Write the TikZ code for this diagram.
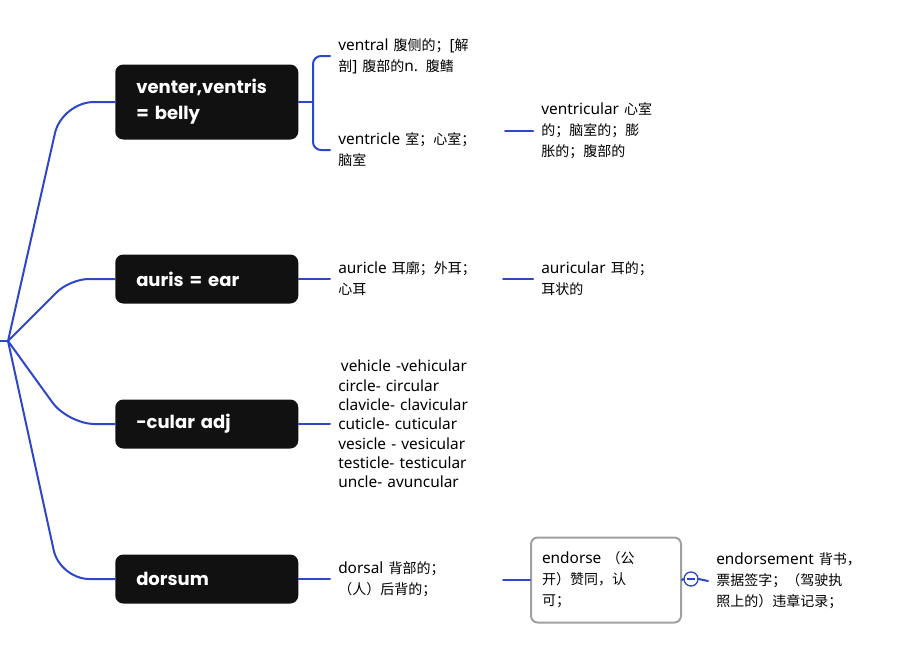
\documentclass[tikz,border=0pt]{standalone}
\usepackage{fontspec}
\setmainfont{Noto Sans}[Scale=1.1]
\newfontfamily\cjk{Noto Sans CJK SC}
\newfontfamily\popfont{Poppins}
\usetikzlibrary{positioning}
\XeTeXinterchartokenstate=1
\newXeTeXintercharclass\cjkclass
\count255="3000
\loop\XeTeXcharclass\count255=\cjkclass\ifnum\count255<"303F\advance\count255 by 1\repeat
\count255="4E00
\loop\XeTeXcharclass\count255=\cjkclass\ifnum\count255<"9FFF\advance\count255 by 1\repeat
\count255="FF00
\loop\XeTeXcharclass\count255=\cjkclass\ifnum\count255<"FFEF\advance\count255 by 1\repeat
\XeTeXinterchartoks 0 \cjkclass={\cjk}
\XeTeXinterchartoks 4095 \cjkclass={\cjk}
\XeTeXinterchartoks \cjkclass 0={\rmfamily}
\XeTeXinterchartoks \cjkclass 4095={\rmfamily}
\definecolor{linkblue}{HTML}{2E46C8}
\definecolor{topicblack}{HTML}{111111}
\definecolor{framegray}{HTML}{A0A0A0}
\tikzset{
  topic/.style={fill=topicblack, rounded corners=6pt, text=white, anchor=west,
    font=\popfont\bfseries\fontsize{13.5}{19.5}\selectfont, align=left,
    minimum width=137.25pt, minimum height=36.75pt, text width=105.75pt,
    inner xsep=15.75pt, inner ysep=0pt},
  leaf/.style={anchor=west, inner sep=0pt, align=left, text width=116pt,
    font=\fontsize{10.5}{15.75}\selectfont},
  link/.style={draw=linkblue, line width=1.5pt, line cap=round, line join=round},
}
\begin{document}
\begin{tikzpicture}[x=0.75pt,y=-0.75pt]
\useasboundingbox (0,0) rectangle (902,650);
\coordinate (rootin) at (0,341);
\coordinate (root) at (8,341);
\node[topic, minimum height=56.25pt] (venter) at (115,102) {venter,ventris\\= belly};
\node[topic] (auris) at (115,279) {auris = ear};
\node[topic] (cular) at (115,424) {-cular adj};
\node[topic] (dorsum) at (115,579) {dorsum};
\draw[link] (rootin) -- (root);
\draw[link, rounded corners=24pt] (root) -- (62,102) -- (venter.west);
\draw[link, rounded corners=14pt] (root) -- (70,279) -- (auris.west);
\draw[link, rounded corners=20pt] (root) -- (68,424) -- (cular.west);
\draw[link, rounded corners=22pt] (root) -- (60,579) -- (dorsum.west);

\node[leaf] (ventral) at (338,56) {ventral 腹侧的；[解\\剖] 腹部的n. 腹鳍};
\node[leaf] (ventricle) at (338,150) {ventricle 室；心室；\\脑室};
\node[leaf] (ventricular) at (541,131) {ventricular 心室\\的；脑室的；膨\\胀的；腹部的};
\coordinate (brace) at (313,102);
\draw[link] (venter.east) -- (brace);
\draw[link, rounded corners=6pt] ([xshift=-6pt]ventral.west) -| (brace) |- ([xshift=-6pt]ventricle.west);
\draw[link] ([xshift=-27pt]ventricular.west) -- ([xshift=-6pt]ventricular.west);

\node[leaf] (auricle) at (338,279) {auricle 耳廓；外耳；\\心耳};
\node[leaf] (auricular) at (541,279) {auricular 耳的；\\耳状的};
\draw[link] (auris.east) -- ([xshift=-6pt]auricle.west);
\draw[link] ([xshift=-28.5pt]auricular.west) -- ([xshift=-6pt]auricular.west);

\node[leaf, font=\fontsize{10.5}{14.5}\selectfont] (cularlist) at (338,424) {\hspace{2pt}vehicle -vehicular\\circle- circular\\clavicle- clavicular\\cuticle- cuticular\\vesicle - vesicular\\testicle- testicular\\uncle- avuncular};
\draw[link] (cular.east) -- ([xshift=-6pt]cularlist.west);

\node[leaf] (dorsal) at (338,579) {dorsal 背部的；\\（人）后背的；};
\node[leaf, draw=framegray, line width=1.5pt, rounded corners=5pt, text width=96pt,
  minimum width=112.5pt, minimum height=63.75pt, inner xsep=8.25pt] (endorse) at (530,580) {endorse （公\\开）赞同，认\\可；};
\node[leaf, text width=120pt] (endorsement) at (716,581) {endorsement 背书，\\票据签字；（驾驶执\\照上的）违章记录；};
\node[circle, draw=linkblue, fill=white, line width=1pt, minimum size=10.5pt, inner sep=0pt] (fold) at (691,579) {};
\draw[link] (dorsum.east) -- ([xshift=-6pt]dorsal.west);
\draw[link] ([xshift=-20.25pt]endorse.west) -- (endorse.west);
\draw[link] (endorse.east) -- (fold.west);
\draw[link] (fold.east) -- ([xshift=-6pt]endorsement.west);
\draw[draw=linkblue, line width=1pt] ([xshift=-3pt]fold.center) -- ([xshift=3pt]fold.center);
\end{tikzpicture}
\end{document}
